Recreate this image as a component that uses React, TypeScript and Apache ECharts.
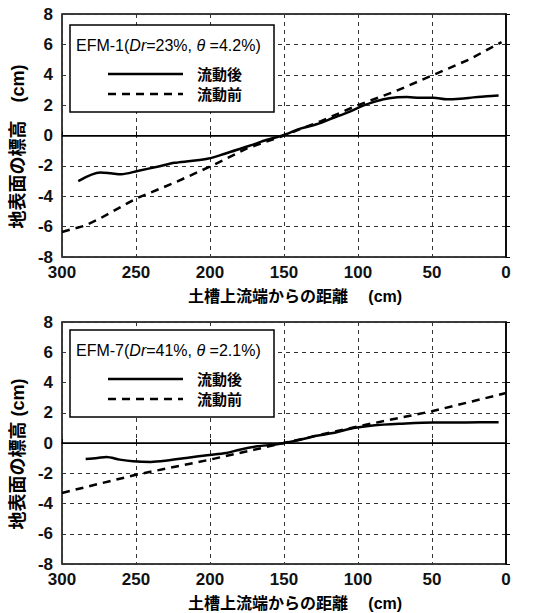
import React, { useEffect, useRef } from "react";
import * as echarts from "echarts";

// Distance from upstream end of the soil tank (cm)
const xTicks = [0, 50, 100, 150, 200, 250, 300];
const yTicks = [-8, -6, -4, -2, 0, 2, 4, 6, 8];

// EFM-1 : after flow (solid)
const efm1AfterDist = [289, 274, 267, 260, 249, 234, 224, 213, 201, 190, 181, 171, 162, 151, 139, 128, 117, 106, 97, 88, 79, 67, 58, 49, 40, 31, 22, 13, 5];
const efm1AfterElev = [-3.0, -2.44, -2.49, -2.55, -2.34, -2.02, -1.8, -1.68, -1.52, -1.2, -0.92, -0.6, -0.3, 0, 0.45, 0.74, 1.15, 1.56, 1.95, 2.25, 2.46, 2.53, 2.49, 2.49, 2.38, 2.42, 2.51, 2.59, 2.64];
// EFM-1 : before flow (dashed)
const efm1BeforeDist = [300, 285, 275, 250, 225, 200, 175, 150, 125, 100, 75, 50, 25, 3];
const efm1BeforeElev = [-6.35, -5.95, -5.5, -4.15, -3.15, -2.05, -0.85, 0, 0.95, 2.0, 2.9, 3.95, 5.0, 6.15];

// EFM-7 : after flow (solid)
const efm7AfterDist = [284, 276, 270, 261, 252, 240, 229, 216, 202, 189, 180, 168, 157, 150, 139, 128, 117, 103, 90, 72, 49, 27, 5];
const efm7AfterElev = [-1.05, -0.99, -0.93, -1.1, -1.21, -1.25, -1.16, -0.99, -0.81, -0.66, -0.44, -0.22, -0.11, 0, 0.22, 0.48, 0.66, 0.99, 1.16, 1.27, 1.36, 1.36, 1.38];
// EFM-7 : before flow (dashed)
const efm7BeforeDist = [300, 250, 200, 150, 100, 50, 0];
const efm7BeforeElev = [-3.3, -2.1, -1.1, 0, 1.1, 2.1, 3.3];

const seriesNames = ["流動後", "流動前"];
const panelTitles = [
  { name: "EFM-1", dr: "23%", theta: "4.2%" },
  { name: "EFM-7", dr: "41%", theta: "2.1%" },
];
const xTitle = "土槽上流端からの距離　 (cm)";
const yTitles = ["地表面の標高　(cm)", "地表面の標高 (cm)"];

const FONT = "'Liberation Sans', 'Noto Sans CJK JP', sans-serif";

const pairs = (xs: number[], ys: number[]) => xs.map((x, i) => [x, ys[i]]);

export default function App() {
  const ref = useRef<HTMLDivElement>(null);
  useEffect(() => {
    if (!ref.current) return;
    const chart = echarts.init(ref.current, undefined, { renderer: "svg" });

    const grids = [
      { left: 62, top: 14, width: 444, height: 243 },
      { left: 62, top: 322, width: 444, height: 242 },
    ];

    const xAxes = grids.map((_, i) => ({
      type: "value",
      gridIndex: i,
      min: xTicks[0],
      max: xTicks[xTicks.length - 1],
      interval: 50,
      inverse: true,
      name: xTitle,
      nameLocation: "middle",
      nameGap: 31,
      nameTextStyle: { fontFamily: FONT, fontSize: 16, fontWeight: "bold", color: "#000", padding: [0, 0, 0, 22] },
      axisLine: { show: true, lineStyle: { color: "#000", width: 1.5 } },
      axisTick: { show: true, inside: true, length: 4, lineStyle: { color: "#000" } },
      axisLabel: { fontFamily: FONT, fontSize: 17, fontWeight: "bold", color: "#111", margin: 7 },
      splitLine: { show: true, lineStyle: { color: "#333", width: 1, type: [4, 4] } },
    }));

    const yAxes = grids.map((_, i) => ({
      type: "value",
      gridIndex: i,
      min: yTicks[0],
      max: yTicks[yTicks.length - 1],
      interval: 2,
      name: yTitles[i],
      nameLocation: "middle",
      nameGap: 31,
      nameTextStyle: { fontFamily: FONT, fontSize: 18, fontWeight: "bold", color: "#000", padding: [0, 22, 0, 0] },
      axisLine: { show: true, lineStyle: { color: "#000", width: 1.5 } },
      axisTick: { show: true, inside: true, length: 4, lineStyle: { color: "#000" } },
      axisLabel: { fontFamily: FONT, fontSize: 17, fontWeight: "bold", color: "#111", margin: 9 },
      splitLine: { show: true, lineStyle: { color: "#333", width: 1, type: [4, 4] } },
    }));

    const datasets = [
      [pairs(efm1AfterDist, efm1AfterElev), pairs(efm1BeforeDist, efm1BeforeElev)],
      [pairs(efm7AfterDist, efm7AfterElev), pairs(efm7BeforeDist, efm7BeforeElev)],
    ];

    const series: any[] = [];
    datasets.forEach((ds, gi) => {
      series.push({
        type: "line",
        name: seriesNames[0],
        xAxisIndex: gi,
        yAxisIndex: gi,
        data: ds[0],
        symbol: "none",
        smooth: 0.3,
        z: 4,
        lineStyle: { color: "#000", width: 2.5, type: "solid" },
        markLine: {
          silent: true,
          symbol: "none",
          label: { show: false },
          lineStyle: { color: "#000", type: "solid", width: 1 },
          data: [{ yAxis: 0 }],
        },
      });
      series.push({
        type: "line",
        name: seriesNames[1],
        xAxisIndex: gi,
        yAxisIndex: gi,
        data: ds[1],
        symbol: "none",
        z: 3,
        lineStyle: { color: "#000", width: 2.5, type: [8, 6] },
      });
    });

    const legendTops = [25, 330];
    const graphic: any[] = [];
    legendTops.forEach((top, i) => {
      const t = panelTitles[i];
      graphic.push(
        {
          type: "rect",
          z: 100,
          shape: { x: 70, y: top, width: 204, height: 87 },
          style: { fill: "#fff", stroke: "#000", lineWidth: 1.5 },
        },
        {
          type: "text",
          z: 101,
          x: 76,
          y: top + 20,
          style: {
            text: `{n|${t.name}(}{i|Dr}{n|=${t.dr}, }{i|θ}{n| =${t.theta})}`,
            rich: {
              n: { fontFamily: FONT, fontSize: 16, fill: "#000" },
              i: { fontFamily: FONT, fontSize: 16, fontStyle: "italic", fill: "#000" },
            },
            verticalAlign: "middle",
            fill: "#000",
          },
        },
        {
          type: "line",
          z: 101,
          shape: { x1: 108, y1: top + 49, x2: 183, y2: top + 49 },
          style: { stroke: "#000", lineWidth: 2.5 },
        },
        {
          type: "line",
          z: 101,
          shape: { x1: 108, y1: top + 69, x2: 183, y2: top + 69 },
          style: { stroke: "#000", lineWidth: 2.5, lineDash: [8, 6] },
        },
        {
          type: "text",
          z: 101,
          x: 197,
          y: top + 49,
          style: { text: seriesNames[0], fontFamily: FONT, fontSize: 15, fontWeight: "bold", fill: "#000", verticalAlign: "middle" },
        },
        {
          type: "text",
          z: 101,
          x: 197,
          y: top + 69,
          style: { text: seriesNames[1], fontFamily: FONT, fontSize: 15, fontWeight: "bold", fill: "#000", verticalAlign: "middle" },
        }
      );
    });

    chart.setOption({
      animation: false,
      backgroundColor: "#fff",
      grid: grids.map((g) => ({ ...g, show: true, borderColor: "#000", borderWidth: 1.5, backgroundColor: "transparent" })),
      xAxis: xAxes,
      yAxis: yAxes,
      series,
      graphic,
    });

    return () => chart.dispose();
  }, []);

  return <div ref={ref} style={{ position: "absolute", left: 0, top: 0, width: 552, height: 613 }} />;
}
